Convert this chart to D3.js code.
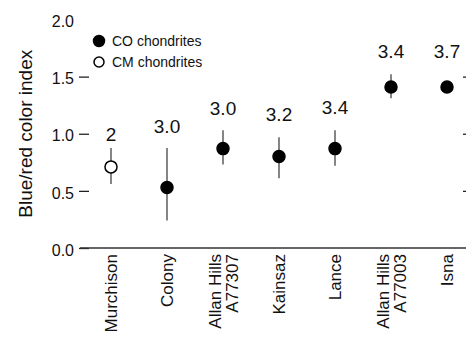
<!DOCTYPE html>
<html>
<head>
<meta charset="utf-8">
<script src="https://cdn.jsdelivr.net/npm/d3@7"></script>
<style>
  body { margin: 0; background: #fff; }
  svg { display: block; }
  text { fill: #111; }
</style>
</head>
<body>
<svg id="chart" width="466" height="337"></svg>
<script>
// meteorites along the x axis (two-line names use "\n")
var categories = ["Murchison", "Colony", "Allan Hills\nA77307", "Kainsaz", "Lance", "Allan Hills\nA77003", "Isna"];
var groups = ["CM", "CO", "CO", "CO", "CO", "CO", "CO"];
var colorIndex = [0.71, 0.53, 0.87, 0.80, 0.87, 1.41, 1.41];
var errLow = [0.56, 0.24, 0.73, 0.61, 0.72, 1.31, 1.38];
var errHigh = [0.875, 0.875, 1.03, 0.97, 1.03, 1.52, 1.44];
// petrologic type printed above each point, and its height in index units
var typeLabels = ["2", "3.0", "3.0", "3.2", "3.4", "3.4", "3.7"];
var typeLabelPos = [1.00, 1.07, 1.22, 1.17, 1.23, 1.72, 1.72];
var yTicks = [0, 0.5, 1.0, 1.5, 2.0];
var legendItems = [{ key: "CO", label: "CO chondrites" }, { key: "CM", label: "CM chondrites" }];

var svg = d3.select("#chart");
var sans = "Liberation Sans, Arial, sans-serif";
var narrow = "Liberation Sans Narrow, Arial Narrow, Liberation Sans, sans-serif";

var x = d3.scalePoint().domain(categories).range([111, 447]);
var y = d3.scaleLinear().domain([0, 2]).range([248, 19.5]);

var data = categories.map(function (c, i) {
    return { name: c, group: groups[i], v: colorIndex[i], lo: errLow[i], hi: errHigh[i],
             type: typeLabels[i], typeY: typeLabelPos[i] };
});

// left axis: no domain line, short ticks pointing into the plot
var yAxis = svg.append("g")
    .attr("transform", "translate(79,0)")
    .call(d3.axisRight(y).tickValues(yTicks).tickSize(10).tickFormat(d3.format(".1f")));
yAxis.select(".domain").remove();
yAxis.selectAll(".tick line").attr("stroke", "#222").attr("stroke-width", 1.3)
    .filter(function (d) { return d === 2; }).remove();
yAxis.selectAll(".tick text")
    .attr("x", -5).attr("dy", "0.45em")
    .attr("text-anchor", "end")
    .style("font-family", sans).style("font-size", "16px").attr("fill", "#111");

// right side ticks at the image edge
var yRight = svg.append("g")
    .attr("transform", "translate(466,0)")
    .call(d3.axisLeft(y).tickValues([0.5, 1.0, 1.5]).tickSize(3).tickFormat(""));
yRight.select(".domain").remove();
yRight.selectAll(".tick line").attr("stroke", "#222").attr("stroke-width", 1.3);

// x baseline
svg.append("line")
    .attr("x1", 80).attr("x2", 466)
    .attr("y1", y(0)).attr("y2", y(0))
    .attr("stroke", "#333").attr("stroke-width", 1.5);

// y title
svg.append("text")
    .attr("transform", "translate(32," + y(1) + ") rotate(-90)")
    .attr("text-anchor", "middle")
    .style("font-family", sans).style("font-size", "19px")
    .text("Blue/red color index");

// error bars
svg.append("g").selectAll("line")
    .data(data)
    .join("line")
    .attr("x1", function (d) { return x(d.name); })
    .attr("x2", function (d) { return x(d.name); })
    .attr("y1", function (d) { return y(d.lo); })
    .attr("y2", function (d) { return y(d.hi); })
    .attr("stroke", "#333").attr("stroke-width", 1.2);

// points
svg.append("g").selectAll("circle")
    .data(data)
    .join("circle")
    .attr("cx", function (d) { return x(d.name); })
    .attr("cy", function (d) { return y(d.v); })
    .attr("r", 6)
    .attr("fill", function (d) { return d.group === "CO" ? "#000" : "#fff"; })
    .attr("stroke", "#000").attr("stroke-width", 1.5);

// petrologic type labels
svg.append("g").selectAll("text")
    .data(data)
    .join("text")
    .attr("x", function (d) { return x(d.name); })
    .attr("y", function (d) { return y(d.typeY); })
    .attr("dy", "0.36em")
    .attr("text-anchor", "middle")
    .style("font-family", narrow).style("font-size", "19px")
    .text(function (d) { return d.type; });

// category labels, rotated
var cat = svg.append("g").selectAll("text")
    .data(data)
    .join("text")
    .attr("transform", function (d) { return "translate(" + x(d.name) + ",254) rotate(-90)"; })
    .attr("text-anchor", "end")
    .style("font-family", sans).style("font-size", "17px");
cat.each(function (d) {
    var lines = d.name.split("\n");
    var t = d3.select(this);
    lines.forEach(function (s, i) {
        t.append("tspan")
            .attr("x", 0)
            .attr("y", (i - (lines.length - 1) / 2) * 17)
            .attr("dy", "0.36em")
            .text(s);
    });
});

// legend
var legend = svg.append("g").selectAll("g")
    .data(legendItems)
    .join("g")
    .attr("transform", function (d, i) { return "translate(99," + (41 + i * 21) + ")"; });
legend.append("circle")
    .attr("r", function (d) { return d.key === "CO" ? 5.5 : 5; })
    .attr("fill", function (d) { return d.key === "CO" ? "#000" : "#fff"; })
    .attr("stroke", "#000").attr("stroke-width", 1.5);
legend.append("text")
    .attr("x", 13).attr("dy", "0.36em")
    .style("font-family", sans).style("font-size", "14px").attr("fill", "#222")
    .text(function (d) { return d.label; });
</script>
</body>
</html>
